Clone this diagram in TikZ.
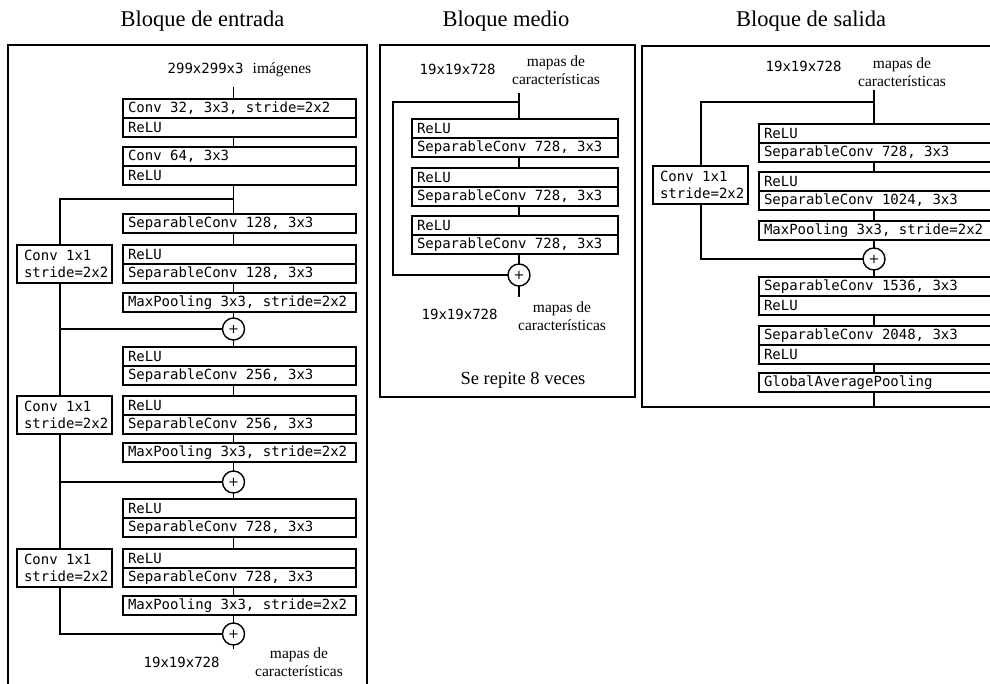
\documentclass[tikz,border=0pt]{standalone}
\usepackage{fontspec}
\setmainfont{Liberation Serif}
\newfontfamily\monofont{DejaVu Sans Mono}
\newfontfamily\plusfont{DejaVu Sans}
% monospaced text at 14pt with full-width, rigid spaces
\newcommand\monotext[1]{\monofont\fontsize{14}{#1}\selectfont
  \fontdimen2\font=8.43pt\fontdimen3\font=0pt\fontdimen4\font=0pt\fontdimen7\font=0pt}
\begin{document}
\begin{tikzpicture}[x=1pt,y=-1pt,line width=1.4pt,
  layer/.style={draw, anchor=north west, outer sep=0pt, minimum height=19pt,
    text width=223pt, inner xsep=5pt, inner ysep=0pt, align=flush left,
    font=\monotext{16}},
  midlayer/.style={layer, text width=196pt},
  shortcut/.style={draw, anchor=north west, outer sep=0pt, minimum height=38pt,
    text width=81pt, inner xsep=7pt, inner ysep=0pt, align=flush left,
    font=\monotext{17}},
  addop/.style={draw, circle, minimum size=22pt, inner sep=0pt, outer sep=0pt,
    font=\plusfont\fontsize{13}{13}\selectfont},
  title/.style={anchor=base, font=\fontsize{22.5}{26}\selectfont},
  dims/.style={anchor=base west, inner sep=0pt, font=\monotext{16}},
  caption/.style={align=center, inner sep=0pt, font=\fontsize{15.5}{18}\selectfont},
  frame/.style={draw, line width=1.4pt}]
\useasboundingbox (0,0) rectangle (990,684);
\clip (0,0) rectangle (990,684);

% ---------- titles ----------
\node[title] (t1) at (202.5,27) {Bloque de entrada};
\node[title] (t2) at (506,27) {Bloque medio};
\node[title] (t3) at (811,27) {Bloque de salida};

% ---------- frames ----------
\draw[frame] (8,45) rectangle (367,700);
\draw[frame] (380,45) rectangle (635,397);
\draw[frame] (642,46) rectangle (1000,407);

% ================= entry block =================
\coordinate (cx) at (233.5,0);
\coordinate (sx) at (60,0);

\node[dims] (d1) at (167,74) {299x299x3};
\node[anchor=base west, inner sep=0pt, font=\fontsize{15.5}{18}\selectfont] (im) at (252,74) {imágenes};
\coordinate (ein) at (233.5,87);

\node[layer] (e1a) at (123,99) {Conv 32, 3x3, stride=2x2};
\node[layer] (e1b) at (e1a.south west) {ReLU};
\node[layer] (e2a) at (123,147) {Conv 64, 3x3};
\node[layer] (e2b) at (e2a.south west) {ReLU};
\node[layer] (e3) at (123,214) {SeparableConv 128, 3x3};
\node[layer] (e4a) at (123,245) {ReLU};
\node[layer] (e4b) at (e4a.south west) {SeparableConv 128, 3x3};
\node[layer] (e5) at (123,293) {MaxPooling 3x3, stride=2x2};
\node[addop] (ep1) at (233.5,329) {+};
\node[layer] (e6a) at (123,347) {ReLU};
\node[layer] (e6b) at (e6a.south west) {SeparableConv 256, 3x3};
\node[layer] (e7a) at (123,396) {ReLU};
\node[layer] (e7b) at (e7a.south west) {SeparableConv 256, 3x3};
\node[layer] (e8) at (123,443) {MaxPooling 3x3, stride=2x2};
\node[addop] (ep2) at (233.5,482) {+};
\node[layer] (e9a) at (123,499) {ReLU};
\node[layer] (e9b) at (e9a.south west) {SeparableConv 728, 3x3};
\node[layer] (e10a) at (123,549) {ReLU};
\node[layer] (e10b) at (e10a.south west) {SeparableConv 728, 3x3};
\node[layer] (e11) at (123,596) {MaxPooling 3x3, stride=2x2};
\node[addop] (ep3) at (233.5,634) {+};
\coordinate (eout) at (233.5,649);

\node[shortcut] (ek1) at (17,245) {Conv 1x1\\stride=2x2};
\node[shortcut] (ek2) at (17,396) {Conv 1x1\\stride=2x2};
\node[shortcut] (ek3) at (17,549) {Conv 1x1\\stride=2x2};

\node[dims] (d2) at (143,667) {19x19x728};
\node[caption] (c1) at (299,662) {mapas de\\características};

% main path
\draw (ein) -- (e1a.north -| cx);
\draw (e1b.south -| cx) -- (e2a.north -| cx);
\draw (e2b.south -| cx) -- (e3.north -| cx);
\draw (e3.south -| cx) -- (e4a.north -| cx);
\draw (e4b.south -| cx) -- (e5.north -| cx);
\draw (e5.south -| cx) -- (ep1);
\draw (ep1) -- (e6a.north -| cx);
\draw (e6b.south -| cx) -- (e7a.north -| cx);
\draw (e7b.south -| cx) -- (e8.north -| cx);
\draw (e8.south -| cx) -- (ep2);
\draw (ep2) -- (e9a.north -| cx);
\draw (e9b.south -| cx) -- (e10a.north -| cx);
\draw (e10b.south -| cx) -- (e11.north -| cx);
\draw (e11.south -| cx) -- (ep3);
\draw (ep3) -- (eout);
% residual path
\coordinate (eb1) at (233.5,199);
\draw (eb1) -| (sx |- ek1.north);
\draw (sx |- ek1.south) |- (ep1);
\draw (sx |- ep1) -- (sx |- ek2.north);
\draw (sx |- ek2.south) |- (ep2);
\draw (sx |- ep2) -- (sx |- ek3.north);
\draw (sx |- ek3.south) |- (ep3);

% ================= middle block =================
\coordinate (mx) at (519,0);
\coordinate (msx) at (393,0);
\node[dims] (d3) at (419,75) {19x19x728};
\node[caption] (c2) at (556,70) {mapas de\\características};
\coordinate (min) at (519,93);
\node[midlayer] (m1a) at (412,119) {ReLU};
\node[midlayer] (m1b) at (m1a.south west) {SeparableConv 728, 3x3};
\node[midlayer] (m2a) at (412,168) {ReLU};
\node[midlayer] (m2b) at (m2a.south west) {SeparableConv 728, 3x3};
\node[midlayer] (m3a) at (412,216) {ReLU};
\node[midlayer] (m3b) at (m3a.south west) {SeparableConv 728, 3x3};
\node[addop] (mp) at (519,275) {+};
\coordinate (mout) at (519,297);
\node[dims] (d4) at (421,320) {19x19x728};
\node[caption] (c3) at (562,316) {mapas de\\características};
\node[font=\fontsize{18.5}{21}\selectfont] (rep) at (523,380) {Se repite 8 veces};

\draw (min) -- (m1a.north -| mx);
\draw (m1b.south -| mx) -- (m2a.north -| mx);
\draw (m2b.south -| mx) -- (m3a.north -| mx);
\draw (m3b.south -| mx) -- (mp);
\draw (mp) -- (mout);
\coordinate (mb) at (519,102);
\draw (mb) -| (msx |- mp) -- (mp);

% ================= exit block =================
\coordinate (rx) at (874,0);
\coordinate (rsx) at (701,0);
\node[dims] (d5) at (765,72) {19x19x728};
\node[caption] (c4) at (902,72) {mapas de\\características};
\coordinate (rin) at (874,90);
\node[layer] (r1a) at (759,124) {ReLU};
\node[layer] (r1b) at (r1a.south west) {SeparableConv 728, 3x3};
\node[layer] (r2a) at (759,172) {ReLU};
\node[layer] (r2b) at (r2a.south west) {SeparableConv 1024, 3x3};
\node[layer] (r3) at (759,221) {MaxPooling 3x3, stride=2x2};
\node[addop] (rp) at (874,259) {+};
\node[layer] (r4a) at (759,277) {SeparableConv 1536, 3x3};
\node[layer] (r4b) at (r4a.south west) {ReLU};
\node[layer] (r5a) at (759,326) {SeparableConv 2048, 3x3};
\node[layer] (r5b) at (r5a.south west) {ReLU};
\node[layer] (r6) at (759,373) {GlobalAveragePooling};
\coordinate (rout) at (874,407);
\node[shortcut] (rk) at (653,166) {Conv 1x1\\stride=2x2};

\draw (rin) -- (r1a.north -| rx);
\draw (r1b.south -| rx) -- (r2a.north -| rx);
\draw (r2b.south -| rx) -- (r3.north -| rx);
\draw (r3.south -| rx) -- (rp);
\draw (rp) -- (r4a.north -| rx);
\draw (r4b.south -| rx) -- (r5a.north -| rx);
\draw (r5b.south -| rx) -- (r6.north -| rx);
\draw (r6.south -| rx) -- (rout);
\coordinate (rb) at (874,102);
\draw (rb) -| (rsx |- rk.north);
\draw (rsx |- rk.south) |- (rp);
\end{tikzpicture}
\end{document}
